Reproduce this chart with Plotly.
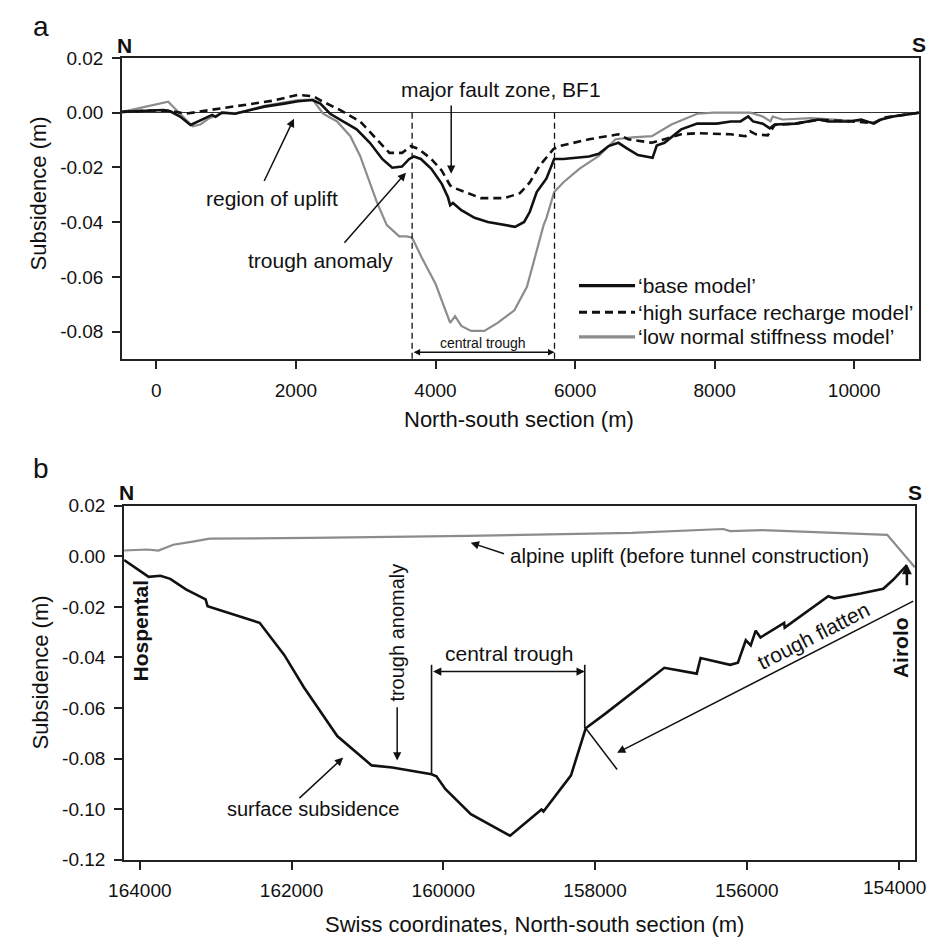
import plotly.graph_objects as go

# ---------------- Panel a data ----------------
a_base_x = [-490, -300, -100, 100, 200, 340, 490, 690, 800, 850, 940, 1130, 1270, 1550, 1830, 2030,
            2240, 2350, 2490, 2680, 2870, 3060, 3240, 3380, 3520, 3620, 3690, 3790, 3940, 4090, 4180,
            4210, 4250, 4370, 4560, 4750, 4990, 5140, 5270, 5350, 5450, 5590, 5700, 5830, 6200, 6340,
            6480, 6620, 6760, 6900, 7110, 7170, 7280, 7520, 7750, 8030, 8230, 8370, 8480, 8550, 8690,
            8790, 8860, 9160, 9490, 9630, 9920, 10100, 10280, 10380, 10560, 10930]
a_base_y = [0.0003, 0.0005, 0.0008, 0.0010, 0.0005, -0.0014, -0.0045, -0.0020, -0.0008, -0.0015,
            0.0000, -0.0004, 0.0004, 0.0022, 0.0033, 0.0042, 0.0046, 0.0033, -0.0004, -0.0032,
            -0.0061, -0.0110, -0.0170, -0.0201, -0.0197, -0.0170, -0.0160, -0.0169, -0.0205, -0.0260,
            -0.0310, -0.0338, -0.0330, -0.0356, -0.0384, -0.0399, -0.0410, -0.0417, -0.0399, -0.0363,
            -0.0290, -0.0240, -0.0169, -0.0169, -0.0160, -0.0150, -0.0122, -0.0110, -0.0133, -0.0155,
            -0.0165, -0.0120, -0.0110, -0.0061, -0.0040, -0.0040, -0.0032, -0.0032, -0.0014, -0.0032,
            -0.0040, -0.0057, -0.0043, -0.0040, -0.0025, -0.0032, -0.0032, -0.0025, -0.0040, -0.0025,
            -0.0014, 0.0000]

a_high_x = [-490, -100, 200, 420, 620, 900, 1270, 1650, 2030, 2250, 2390, 2630, 2920, 3160, 3340,
            3520, 3650, 3760, 3940, 4090, 4210, 4280, 4420, 4650, 4990, 5210, 5350, 5490, 5690, 5780,
            6200, 6440, 6620, 6760, 7100, 7280, 7520, 7750, 8230, 8440, 8510, 8590, 8760, 8860, 9160,
            9490, 9920, 10280, 10420, 10930]
a_high_y = [0.0003, 0.0008, 0.0007, -0.0004, 0.0004, 0.0014, 0.0029, 0.0043, 0.0065, 0.0060, 0.0040,
            0.0010, -0.0032, -0.0097, -0.0147, -0.0147, -0.0122, -0.0133, -0.0169, -0.0212, -0.0266,
            -0.0276, -0.0290, -0.0312, -0.0312, -0.0294, -0.0255, -0.0194, -0.0133, -0.0122, -0.0097,
            -0.0086, -0.0079, -0.0097, -0.0110, -0.0097, -0.0079, -0.0075, -0.0079, -0.0086, -0.0068,
            -0.0079, -0.0083, -0.0045, -0.0040, -0.0026, -0.0031, -0.0038, -0.0018, 0.0000]

a_low_x = [-490, -140, 170, 340, 520, 630, 760, 850, 940, 1130, 1270, 1550, 1830, 2030, 2240, 2390,
           2590, 2780, 2920, 3060, 3160, 3300, 3480, 3580, 3660, 3690, 3800, 4000, 4140, 4210, 4280,
           4370, 4510, 4700, 4890, 5130, 5310, 5450, 5550, 5590, 5700, 5830, 6060, 6340, 6580, 6820,
           7100, 7380, 7750, 7990, 8510, 8690, 8800, 8830, 8970, 9390, 9920, 10280, 10560, 10930]
a_low_y = [0.0003, 0.0022, 0.0040, -0.0004, -0.0050, -0.0043, -0.0020, -0.0012, 0.0000, -0.0002,
           0.0006, 0.0025, 0.0036, 0.0046, 0.0048, -0.0004, -0.0032, -0.0086, -0.0158, -0.0255,
           -0.0327, -0.0410, -0.0452, -0.0452, -0.0456, -0.0470, -0.0528, -0.0625, -0.0722, -0.0768,
           -0.0743, -0.0779, -0.0797, -0.0797, -0.0768, -0.0722, -0.0636, -0.0506, -0.0410, -0.0384,
           -0.0290, -0.0255, -0.0205, -0.0158, -0.0097, -0.0090, -0.0086, -0.0043, -0.0004, 0.0000,
           0.0000, -0.0014, -0.0032, -0.0014, -0.0025, -0.0020, -0.0028, -0.0035, -0.0012, 0.0000]

a_xticks = [0, 2000, 4000, 6000, 8000, 10000]
a_xticktext = ["0", "2000", "4000", "6000", "8000", "10000"]
a_yticks = [0.02, 0.0, -0.02, -0.04, -0.06, -0.08]
a_yticktext = ["0.02", "0.00", "-0.02", "-0.04", "-0.06", "-0.08"]
a_trough_bounds = [3665, 5705]

# ---------------- Panel b data ----------------
b_sub_x = [164207, 163883, 163728, 163599, 163392, 163133, 163107, 162822, 162421, 162097, 161838,
           161398, 160945, 160673, 160155, 160091, 159974, 159637, 159120, 158706, 158680, 158317,
           158123, 157864, 157087, 156660, 156609, 156220, 156117, 156013, 155948, 155883, 155819,
           155508, 155500, 154926, 154848, 154498, 154201, 154071, 153890]
b_sub_y = [-0.0015, -0.0081, -0.0077, -0.0089, -0.0131, -0.0170, -0.0197, -0.0224, -0.0263, -0.0390,
           -0.0518, -0.0711, -0.0827, -0.0835, -0.0862, -0.0870, -0.0920, -0.1020, -0.1105, -0.1001,
           -0.1009, -0.0866, -0.0680, -0.0622, -0.0441, -0.0464, -0.0402, -0.0429, -0.0421, -0.0332,
           -0.0352, -0.0294, -0.0321, -0.0263, -0.0282, -0.0158, -0.0166, -0.0147, -0.0128, -0.0093,
           -0.0035]

b_uplift_x = [164207, 163909, 163754, 163560, 163301, 163081, 161748, 159676, 157515, 156311, 156220,
              155793, 154149, 153786]
b_uplift_y = [0.0023, 0.0027, 0.0023, 0.0046, 0.0058, 0.0070, 0.0073, 0.0081, 0.0093, 0.0108, 0.0100,
              0.0104, 0.0085, -0.0043]

b_xticks = [164000, 162000, 160000, 158000, 156000, 154000]
b_xticktext = ["164000", "162000", "160000", "158000", "156000", "154000"]
b_yticks = [0.02, 0.0, -0.02, -0.04, -0.06, -0.08, -0.10, -0.12]
b_yticktext = ["0.02", "0.00", "-0.02", "-0.04", "-0.06", "-0.08", "-0.10", "-0.12"]
b_trough_bounds = [160155, 158136]

# ---------------- figure ----------------
W, H = 929, 947
FONT = "Liberation Sans, Arial, sans-serif"
INK = "#111111"
GRAY = "#8c8c8c"


def px(xp, yp):
    return xp / W, 1 - yp / H


fig = go.Figure()
fig.add_trace(go.Scatter(x=a_low_x, y=a_low_y, mode="lines", line=dict(color=GRAY, width=2.2),
                         xaxis="x", yaxis="y"))
fig.add_trace(go.Scatter(x=a_high_x, y=a_high_y, mode="lines",
                         line=dict(color=INK, width=2.6, dash="8px,5px"), xaxis="x", yaxis="y"))
fig.add_trace(go.Scatter(x=a_base_x, y=a_base_y, mode="lines", line=dict(color=INK, width=2.6),
                         xaxis="x", yaxis="y"))
fig.add_trace(go.Scatter(x=b_uplift_x, y=b_uplift_y, mode="lines", line=dict(color=GRAY, width=2.2),
                         xaxis="x2", yaxis="y2"))
fig.add_trace(go.Scatter(x=b_sub_x, y=b_sub_y, mode="lines", line=dict(color=INK, width=2.6),
                         xaxis="x2", yaxis="y2"))

axis_style = dict(showline=True, linecolor="#222", linewidth=1.8, mirror=True, ticks="outside",
                  ticklen=8, tickwidth=1.5, tickcolor="#222", showgrid=False,
                  tickfont=dict(size=19, color=INK, family=FONT), ticklabelstandoff=5)

fig.update_layout(
    width=W, height=H, margin=dict(l=0, r=0, t=0, b=0),
    paper_bgcolor="white", plot_bgcolor="white", showlegend=False,
    font=dict(family=FONT, size=19, color=INK),
    xaxis=dict(domain=[108 / W, 919 / W], range=[-490, 10930], anchor="y", zeroline=False,
               tickmode="array", tickvals=a_xticks, ticktext=a_xticktext, **axis_style),
    yaxis=dict(domain=[1 - 357 / H, 1 - 49 / H], range=[-0.09, 0.02], anchor="x",
               zeroline=True, zerolinecolor="#333", zerolinewidth=1,
               tickmode="array", tickvals=a_yticks, ticktext=a_yticktext, **axis_style),
    xaxis2=dict(domain=[110 / W, 915 / W], range=[164207, 153780], anchor="y2", zeroline=False,
                tickmode="array", tickvals=b_xticks, ticktext=b_xticktext, **axis_style),
    yaxis2=dict(domain=[1 - 869 / H, 1 - 507 / H], range=[-0.12, 0.02], anchor="x2", zeroline=False,
                tickmode="array", tickvals=b_yticks, ticktext=b_yticktext, **axis_style),
)

shapes = []
annotations = []


def text(x, y, s, xref="x", yref="y", size=19, angle=0, bold=False, xanchor="center", yanchor="middle"):
    annotations.append(dict(x=x, y=y, xref=xref, yref=yref, text=f"<b>{s}</b>" if bold else s,
                            showarrow=False, textangle=angle, xanchor=xanchor, yanchor=yanchor,
                            font=dict(size=size, color=INK, family=FONT)))


def arrow(x, y, ax, ay, xref="x", yref="y", both=False, width=1.5, size=1.1):
    d = dict(x=x, y=y, ax=ax, ay=ay, xref=xref, yref=yref, axref=xref, ayref=yref, text="",
             showarrow=True, arrowhead=2, arrowsize=size, arrowwidth=width, arrowcolor=INK,
             standoff=0, startstandoff=0)
    if both:
        d.update(arrowside="end+start", startarrowhead=2, startarrowsize=size)
    annotations.append(d)


def line(x0, y0, x1, y1, xref="x", yref="y", width=1.5, dash=None, color=INK):
    ln = dict(color=color, width=width)
    if dash:
        ln["dash"] = dash
    shapes.append(dict(type="line", x0=x0, y0=y0, x1=x1, y1=y1, xref=xref, yref=yref, line=ln))


# ---- panel a decorations ----
for xb in a_trough_bounds:
    line(xb, 0.0, xb, -0.09, width=1.3, dash="6px,4px")
arrow(a_trough_bounds[1], -0.0875, a_trough_bounds[0], -0.0875, both=True, width=1.3, size=1.0)
text(sum(a_trough_bounds) / 2, -0.0843, "central trough", size=14)

text(4944, 0.0083, "major fault zone, BF1", size=21)
arrow(4225, -0.0223, 4225, 0.0032)
text(1662, -0.0312, "region of uplift", size=21)
arrow(1972, -0.0022, 1535, -0.0255)
text(2352, -0.0539, "trough anomaly", size=21)
arrow(3577, -0.0219, 2676, -0.0481)

# legend (panel a)
leg_items = [("‘base model’", dict(color=INK, width=3.2, dash=None), -0.0632),
             ("‘high surface recharge model’", dict(color=INK, width=3.2, dash="8px,5px"), -0.0729),
             ("‘low normal stiffness model’", dict(color=GRAY, width=3.2, dash=None), -0.0819)]
for lab, st, yy in leg_items:
    line(6056, yy, 6859, yy, width=st["width"], dash=st["dash"], color=st["color"])
    text(6868, yy, lab, size=21, xanchor="left")

# ---- panel b decorations ----
text(163987, -0.0294, "Hospental", xref="x2", yref="y2", size=21, angle=-90, bold=True)
text(153981, -0.0359, "Airolo", xref="x2", yref="y2", size=21, angle=-90, bold=True)
arrow(153890, -0.0031, 153890, -0.0120, xref="x2", yref="y2", width=2.5, size=0.8)

text(160608, -0.0301, "trough anomaly", xref="x2", yref="y2", size=20, angle=-90)
arrow(160608, -0.0808, 160608, -0.0591, xref="x2", yref="y2")

line(b_trough_bounds[0], -0.0429, b_trough_bounds[0], -0.0862, xref="x2", yref="y2", width=1.6)
line(b_trough_bounds[1], -0.0429, b_trough_bounds[1], -0.0680, xref="x2", yref="y2", width=1.6)
arrow(b_trough_bounds[1], -0.0456, b_trough_bounds[0], -0.0456, xref="x2", yref="y2", both=True)
text(159133, -0.0383, "central trough", xref="x2", yref="y2", size=21)

text(161722, -0.1001, "surface subsidence", xref="x2", yref="y2", size=20)
arrow(161320, -0.0796, 161916, -0.0962, xref="x2", yref="y2")

text(159150, 0.0004, "alpine uplift (before tunnel construction)", xref="x2", yref="y2", size=20.5,
     xanchor="left")
arrow(159638, 0.0054, 159180, 0.0008, xref="x2", yref="y2")

text(155120, -0.0313, "trough flatten", xref="x2", yref="y2", size=21, angle=-27)
arrow(157709, -0.0777, 153786, -0.0174, xref="x2", yref="y2")
line(158123, -0.0680, 157709, -0.0843, xref="x2", yref="y2", width=1.5)

# last tick label of panel b sits at the page edge (plotly hides it); draw it flush right
xx, yy = px(928, 897)
text(xx, yy, b_xticktext[-1], xref="paper", yref="paper", size=19, xanchor="right")

# ---- panel labels, N/S, axis titles (paper coordinates) ----
for s, (xp, yp), sz, b in [("a", (25, 17), 28, False), ("b", (25, 469), 28, False),
                           ("N", (110, 36), 21, True), ("S", (919, 35), 21, True),
                           ("N", (112, 493), 21, True), ("S", (915, 493), 21, True)]:
    xx, yy = px(xp, yp)
    text(xx, yy, s, xref="paper", yref="paper", size=sz, bold=b)

for s, (xp, yp), ang in [("Subsidence (m)", (23, 188), -90), ("Subsidence (m)", (25, 678), -90),
                         ("North-south section (m)", (512, 419), 0),
                         ("Swiss coordinates, North-south section (m)", (528, 935), 0)]:
    xx, yy = px(xp, yp)
    text(xx, yy, s, xref="paper", yref="paper", size=22, angle=ang)

fig.update_layout(shapes=shapes, annotations=annotations)
fig.write_html("out.html")
